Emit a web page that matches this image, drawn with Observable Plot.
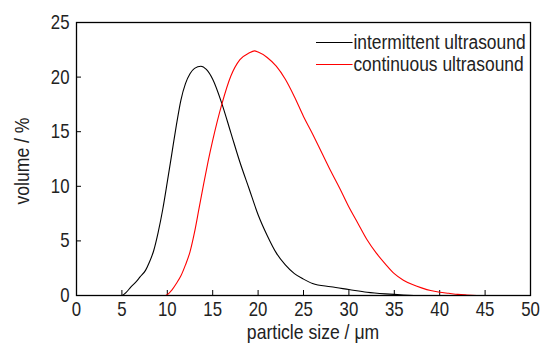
<!DOCTYPE html>
<html>
<head>
<meta charset="utf-8">
<script src="https://cdn.jsdelivr.net/npm/d3@7"></script>
<script src="https://cdn.jsdelivr.net/npm/@observablehq/plot@0.6"></script>
<style>
  body { margin: 0; background: #fff; }
  #wrap { position: relative; width: 541px; height: 343px; font-family: "Liberation Sans", Arial, sans-serif; }
  #legend { position: absolute; left: 316px; top: 31px; font-size: 20px; color: #222; line-height: 22px; transform: scaleX(0.87); transform-origin: 0 0; }
  #legend div { display: flex; align-items: center; white-space: nowrap; }
  #legend span.sw { display: inline-block; width: 42px; height: 0; border-top: 1.2px solid; margin-right: 1px; }
</style>
</head>
<body>
<div id="wrap"><div id="legend"></div></div>
<script>
const seriesNames = ["intermittent ultrasound", "continuous ultrasound"];
const seriesColors = ["#000000", "#ff0000"];

const intermittentX = [0, 5, 5.5, 6, 6.5, 7, 7.6, 8, 8.5, 9, 9.5, 10, 10.5, 11, 11.5, 12, 12.5, 13, 13.7, 14.3, 15, 16, 17, 18, 19, 20, 21, 22, 23, 24, 25, 26, 28, 30, 32, 34, 36, 38, 50];
const intermittentY = [0, 0, 0.3, 0.8, 1.2, 1.7, 2.3, 3.0, 4.1, 5.8, 7.9, 10.4, 13.0, 15.6, 17.9, 19.4, 20.3, 20.8, 21.0, 20.7, 19.8, 17.6, 14.9, 12.2, 9.8, 7.4, 5.5, 3.9, 2.8, 2.0, 1.5, 1.1, 0.8, 0.55, 0.3, 0.15, 0.05, 0, 0];

const continuousX = [0, 9.8, 10.5, 11, 11.5, 12, 12.5, 13, 13.5, 14, 14.5, 15, 16, 17, 18, 19, 19.6, 20, 21, 22, 23, 24, 25, 26, 27, 28, 29, 30, 31, 32, 33, 34, 35, 36, 37, 38, 39, 40, 41, 42, 43, 45, 50];
const continuousY = [0, 0, 0.5, 1.1, 1.8, 2.8, 4.0, 5.8, 8.0, 10.2, 12.3, 14.2, 17.5, 20.1, 21.6, 22.2, 22.4, 22.3, 21.8, 21.0, 19.8, 18.2, 16.4, 14.8, 13.1, 11.4, 9.8, 8.1, 6.6, 5.1, 3.9, 2.9, 2.0, 1.4, 1.0, 0.7, 0.45, 0.3, 0.2, 0.1, 0.05, 0, 0];

const xTicks = [0, 5, 10, 15, 20, 25, 30, 35, 40, 45, 50];
const yTicks = [0, 5, 10, 15, 20, 25];

const data = [
  ...intermittentX.map((x, i) => ({x, y: intermittentY[i], s: seriesNames[0]})),
  ...continuousX.map((x, i) => ({x, y: continuousY[i], s: seriesNames[1]}))
];

const chart = Plot.plot({
  width: 541,
  height: 343,
  marginLeft: 76,
  marginRight: 11,
  marginTop: 22,
  marginBottom: 48,
  style: {fontFamily: '"Liberation Sans", Arial, sans-serif', background: "#fff", color: "#222"},
  x: {domain: [0, 50]},
  y: {domain: [0, 25]},
  color: {domain: seriesNames, range: seriesColors},
  marks: [
    Plot.axisX({ticks: xTicks, tickSize: -5, tickPadding: 11, fontSize: 20, label: null, stroke: "#000"}),
    Plot.axisY({ticks: yTicks, tickSize: -5, tickPadding: 12, fontSize: 20, label: null, stroke: "#000"}),
    Plot.line(data, {x: "x", y: "y", z: "s", stroke: "s", curve: "monotone-x", strokeWidth: 1.1}),
    Plot.frame({stroke: "#000", strokeWidth: 1.3})
  ]
});
document.getElementById("wrap").prepend(chart);

const svg = d3.select(chart);
// condense tick label glyphs horizontally
svg.selectAll('g[aria-label="x-axis tick label"] text, g[aria-label="y-axis tick label"] text').each(function() {
  const t = this.getAttribute("transform") || "";
  this.setAttribute("transform", t + " scale(0.84,1)");
});

// axis titles
svg.append("text").attr("transform", "translate(313,339) scale(0.88,1)").attr("text-anchor", "middle").attr("font-size", 20).attr("fill", "#222").text("particle size / μm");
svg.append("text").attr("transform", "translate(29,161) rotate(-90) scale(0.88,1)").attr("text-anchor", "middle").attr("font-size", 20).attr("fill", "#222").text("volume / %");

const legend = d3.select("#legend");
seriesNames.forEach((n, i) => {
  const row = legend.append("div");
  row.append("span").attr("class", "sw").style("border-color", seriesColors[i]);
  row.append("span").text(n);
});
</script>
</body>
</html>
